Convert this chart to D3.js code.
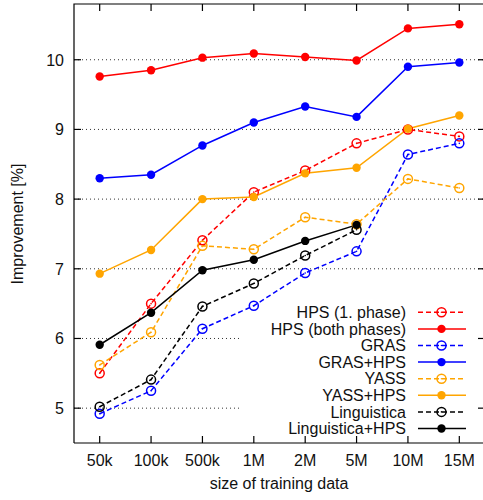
<!DOCTYPE html>
<html>
<head>
<meta charset="utf-8">
<script src="https://cdn.jsdelivr.net/npm/d3@7"></script>
<style>
body { margin: 0; background: #fff; }
</style>
</head>
<body>
<div id="chart"><svg></svg></div>
<script>
const sizes = ["50k", "100k", "500k", "1M", "2M", "5M", "10M", "15M"];
const yTicks = [5, 6, 7, 8, 9, 10];

const hps1 = [5.50, 6.50, 7.41, 8.10, 8.41, 8.80, 9.00, 8.90];
const hpsBoth = [9.76, 9.85, 10.03, 10.09, 10.04, 9.99, 10.45, 10.51];
const gras = [4.92, 5.25, 6.14, 6.47, 6.94, 7.25, 8.64, 8.80];
const grasHps = [8.30, 8.35, 8.77, 9.10, 9.33, 9.18, 9.90, 9.96];
const yass = [5.62, 6.09, 7.33, 7.28, 7.74, 7.64, 8.29, 8.16];
const yassHps = [6.93, 7.27, 8.00, 8.03, 8.37, 8.45, 9.01, 9.20];
const ling = [5.02, 5.41, 6.46, 6.79, 7.19, 7.56];
const lingHps = [5.91, 6.37, 6.98, 7.13, 7.40, 7.63];

const series = [
    {name: "HPS (1. phase)", values: hps1, color: "#ff0000", dashed: true},
    {name: "HPS (both phases)", values: hpsBoth, color: "#ff0000", dashed: false},
    {name: "GRAS", values: gras, color: "#0000ff", dashed: true},
    {name: "GRAS+HPS", values: grasHps, color: "#0000ff", dashed: false},
    {name: "YASS", values: yass, color: "#ffa500", dashed: true},
    {name: "YASS+HPS", values: yassHps, color: "#ffa500", dashed: false},
    {name: "Linguistica", values: ling, color: "#000000", dashed: true},
    {name: "Linguistica+HPS", values: lingHps, color: "#000000", dashed: false}
];

const pLeft = 74, pRight = 485, pTop = 4, pBottom = 443;

const svg = d3.select("#chart svg")
    .attr("width", 483)
    .attr("height", 500)
    .attr("font-family", "'Liberation Sans', Arial, sans-serif")
    .attr("font-size", 16);

const x = d3.scalePoint().domain(sizes).range([pLeft, pRight]).padding(0.5);
const y = d3.scaleLinear().domain([4.5, 10.8]).range([pBottom, pTop]);

// grid
svg.append("g")
    .selectAll("line")
    .data(yTicks)
    .enter().append("line")
    .attr("x1", pLeft).attr("x2", pRight)
    .attr("y1", d => y(d)).attr("y2", d => y(d))
    .attr("stroke", "#333")
    .attr("stroke-width", 1)
    .attr("stroke-dasharray", "1,3");

// key background hides the grid
svg.append("rect")
    .attr("x", 239).attr("y", 300)
    .attr("width", 250).attr("height", 140)
    .attr("fill", "#fff");

const line = d3.line()
    .x((d, i) => x(sizes[i]))
    .y(d => y(d));

const plot = svg.append("g");

series.forEach(s => {
    plot.append("path")
        .attr("d", line(s.values))
        .attr("fill", "none")
        .attr("stroke", s.color)
        .attr("stroke-width", 1.5)
        .attr("stroke-dasharray", s.dashed ? "5,3" : null);
});

function marker(g, s, cx, cy) {
    if (s.dashed) {
        g.append("circle")
            .attr("cx", cx).attr("cy", cy).attr("r", 4.5)
            .attr("fill", "none")
            .attr("stroke", s.color)
            .attr("stroke-width", 1.5);
        g.append("circle")
            .attr("cx", cx).attr("cy", cy).attr("r", 0.8)
            .attr("fill", s.color);
    } else {
        g.append("circle")
            .attr("cx", cx).attr("cy", cy).attr("r", 4.2)
            .attr("fill", s.color);
    }
}

series.forEach(s => {
    s.values.forEach((v, i) => marker(plot, s, x(sizes[i]), y(v)));
});

// border and ticks
const axis = svg.append("g").attr("stroke", "#000").attr("stroke-width", 1.2);
axis.append("path")
    .attr("d", `M${pLeft},${pBottom}H${pRight}M${pLeft},${pBottom}V${pTop}H${pRight}V${pBottom}`)
    .attr("fill", "none");

sizes.forEach(d => {
    axis.append("line").attr("x1", x(d)).attr("x2", x(d)).attr("y1", pBottom).attr("y2", pBottom - 7);
    axis.append("line").attr("x1", x(d)).attr("x2", x(d)).attr("y1", pTop).attr("y2", pTop + 7);
});
yTicks.forEach(d => {
    axis.append("line").attr("x1", pLeft).attr("x2", pLeft + 7).attr("y1", y(d)).attr("y2", y(d));
    axis.append("line").attr("x1", pRight).attr("x2", pRight - 7).attr("y1", y(d)).attr("y2", y(d));
});

// tick labels
svg.append("g")
    .selectAll("text")
    .data(yTicks)
    .enter().append("text")
    .attr("x", 64)
    .attr("y", d => y(d))
    .attr("dy", "0.36em")
    .attr("text-anchor", "end")
    .attr("fill", "#111")
    .text(d => d);

svg.append("g")
    .selectAll("text")
    .data(sizes)
    .enter().append("text")
    .attr("x", d => x(d))
    .attr("y", 466)
    .attr("text-anchor", "middle")
    .attr("fill", "#111")
    .text(d => d);

svg.append("text")
    .attr("x", 279).attr("y", 489)
    .attr("text-anchor", "middle")
    .attr("fill", "#111")
    .text("size of training data");

svg.append("text")
    .attr("transform", "translate(23,224) rotate(-90)")
    .attr("text-anchor", "middle")
    .attr("fill", "#111")
    .text("Improvement [%]");

// key
const key = svg.append("g")
    .selectAll("g")
    .data(series)
    .enter().append("g")
    .attr("transform", (d, i) => `translate(0,${312.3 + i * 16.6})`);

key.append("text")
    .attr("x", 406)
    .attr("dy", "0.36em")
    .attr("text-anchor", "end")
    .attr("fill", "#111")
    .text(d => d.name);

key.append("line")
    .attr("x1", 418).attr("x2", 466)
    .attr("stroke", d => d.color)
    .attr("stroke-width", 1.5)
    .attr("stroke-dasharray", d => d.dashed ? "5,3" : null);

key.each(function(d) { marker(d3.select(this), d, 441.5, 0); });
</script>
</body>
</html>
